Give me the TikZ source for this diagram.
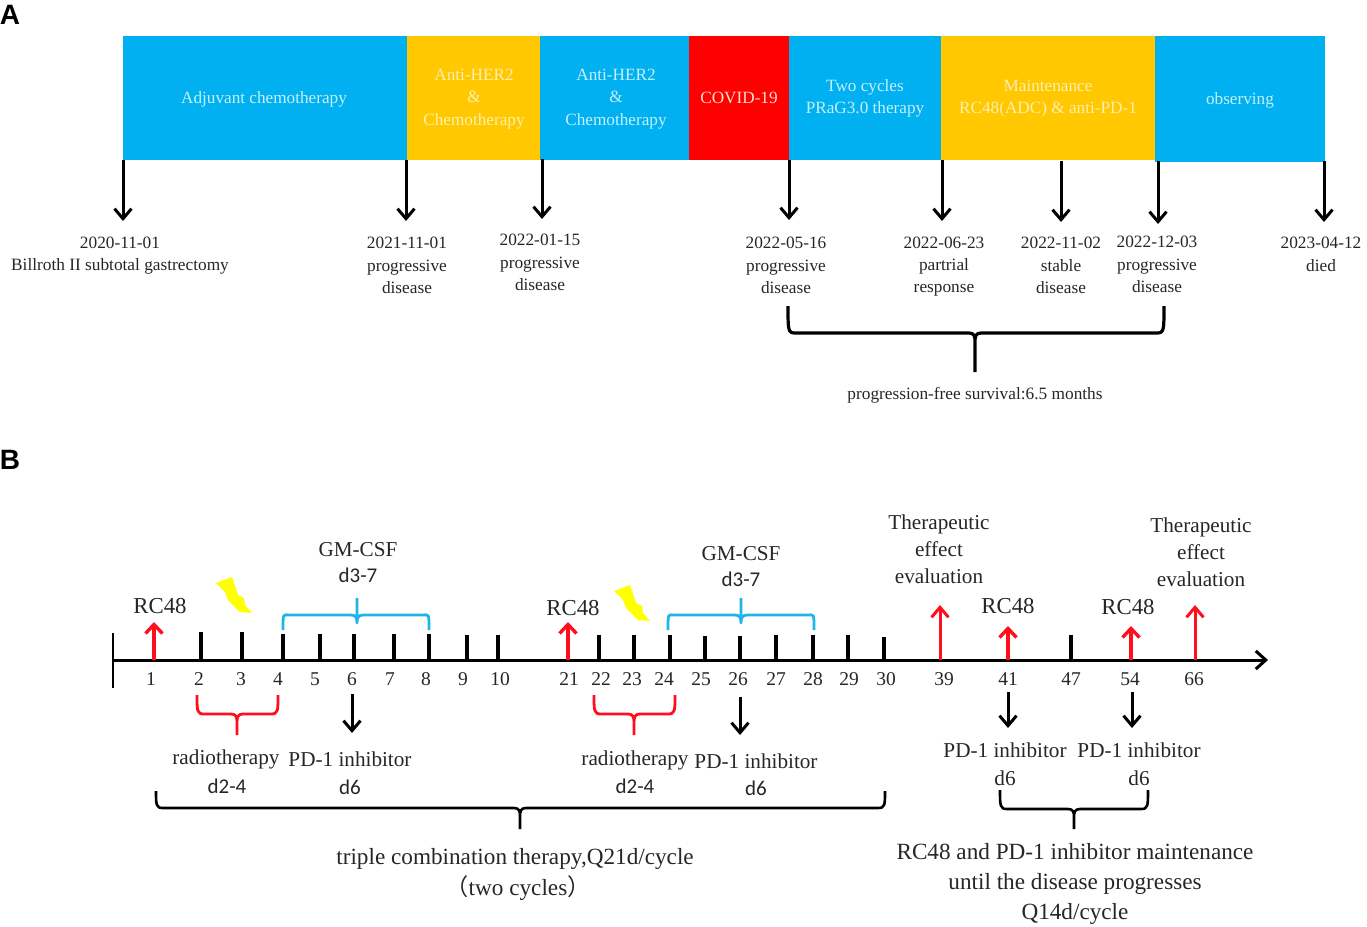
\documentclass[tikz,border=0pt]{standalone}
\usepackage{fontspec}
\setmainfont{Liberation Serif}
\newfontfamily\panelfont{Liberation Sans}
\newfontfamily\calfont{Carlito}
\newfontfamily\cjkfont{Noto Sans CJK SC}
\usetikzlibrary{arrows.meta}
\definecolor{barblue}{HTML}{00B0F0}
\definecolor{baryellow}{HTML}{FFC800}
\definecolor{barred}{HTML}{FF0000}
\definecolor{ltblue}{HTML}{C4F0FA}
\definecolor{ltyellow}{HTML}{FFEFB0}
\definecolor{ltred}{HTML}{FFE0D0}
\definecolor{txt}{HTML}{262626}
\definecolor{bracecyan}{HTML}{1DB5EA}
\definecolor{boltyellow}{HTML}{FFFF00}
\definecolor{arrred}{HTML}{FF0F1E}
\tikzset{
  x=1pt,y=-1pt,
  bar/.style={rectangle,inner sep=0pt,minimum height=124pt},
  bartext/.style={inner sep=0pt,align=center,font=\fontsize{17.2}{22.5}\selectfont},
  labA/.style={inner sep=0pt,align=center,text=txt,font=\fontsize{17.3}{22.4}\selectfont},
  labB/.style={inner sep=0pt,align=center,text=txt,font=\fontsize{21.2}{27}\selectfont},
  labC/.style={inner sep=0pt,align=center,text=txt,font=\fontsize{23.2}{30}\selectfont},
  num/.style={inner sep=0pt,text=txt,font=\fontsize{19.5}{22}\selectfont},
  rcl/.style={inner sep=0pt,text=txt,font=\fontsize{22.8}{26}\selectfont},
  calib/.style={inner sep=0pt,text=txt,font=\calfont\fontsize{21}{24}\selectfont},
  panel/.style={inner sep=0pt,text=black,font=\panelfont\bfseries\fontsize{28}{30}\selectfont},
  darrA/.style={draw=black,line width=3pt,-{Straight Barb[length=10pt,width=17pt,line width=3pt]}},
  darrB/.style={draw=black,line width=3pt,-{Straight Barb[length=10pt,width=17pt,line width=3pt]}},
  redthick/.style={draw=arrred,line width=3.8pt,-{Straight Barb[length=9pt,width=17pt,line width=3.4pt]}},
  redthin/.style={draw=arrred,line width=3pt,-{Straight Barb[length=10pt,width=17pt,line width=3pt]}},
  tick/.style={draw=black,line width=4.2pt},
  axis/.style={draw=black,line width=3pt,-{Straight Barb[length=10pt,width=18pt,line width=3pt]}},
  bracek/.style={draw=black,line width=2.6pt,line join=round},
  bracebig/.style={draw=black,line width=3.2pt,line join=round},
  bracer/.style={draw=arrred,line width=2.8pt,line join=round},
  braceb/.style={draw=bracecyan,line width=2.8pt,line join=round},
  bolt/.style={fill=boltyellow,draw=none},
}
% style; left x; right x; top y; bar y; tip x; tip y
\newcommand{\mybrace}[7]{%
  \draw[#1] (#2,#4) .. controls (#2,#5-3) and (#2,#5) .. (#2+7,#5)
    -- (#6-6,#5) .. controls (#6-1,#5) and (#6,#5+3) .. (#6,#5+8) -- (#6,#7)
    (#6,#5+8) .. controls (#6,#5+3) and (#6+1,#5) .. (#6+6,#5)
    -- (#3-7,#5) .. controls (#3,#5) and (#3,#5-3) .. (#3,#4);}
\newcommand{\mybolt}[2]{%
  \path[bolt] (#1+0,#2+6) -- (#1+16,#2+0) -- (#1+22,#2+18) -- (#1+28,#2+21) -- (#1+29,#2+28)
    -- (#1+36,#2+36) -- (#1+24,#2+35) -- (#1+12,#2+23) -- (#1+9,#2+15) -- cycle;}
\begin{document}
\begin{tikzpicture}
\useasboundingbox (0,0) rectangle (1367,926);
\node[panel] (pA) at (10,15) {A};
\node[panel] (pB) at (10,460) {B};
% --- panel A bars
\node[bar,fill=barblue,minimum width=284.5pt] (b1) at (264.75,98) {};
\node[bar,fill=baryellow,minimum width=133pt] (b2) at (473.5,98) {};
\node[bar,fill=barblue,minimum width=149pt] (b3) at (614.5,98) {};
\node[bar,fill=barred,minimum width=100pt] (b4) at (739,98) {};
\node[bar,fill=barblue,minimum width=152pt] (b5) at (865,98) {};
\node[bar,fill=baryellow,minimum width=214pt] (b6) at (1048,98) {};
\node[bar,fill=barblue,minimum width=170pt,minimum height=126pt] (b7) at (1240,99) {};
\node[bartext,text=ltblue] (bt1) at (264,99) {Adjuvant chemotherapy};
\node[bartext,text=ltyellow] (bt2) at (474,99) {Anti-HER2\\\&\\Chemotherapy};
\node[bartext,text=ltblue] (bt3) at (616,99) {Anti-HER2\\\&\\Chemotherapy};
\node[bartext,text=ltred] (bt4) at (739,97.5) {COVID-19};
\node[bartext,text=ltblue] (bt5) at (865,98.5) {Two cycles\\PRaG3.0 therapy};
\node[bartext,text=ltyellow] (bt6) at (1048,98.5) {Maintenance\\RC48(ADC) \& anti-PD-1};
\node[bartext,text=ltblue] (bt7) at (1240,100) {observing};
% --- panel A labels
\node[labA] (l1) at (120,255.5) {2020-11-01\\Billroth II subtotal gastrectomy};
\node[labA] (l2) at (407,265.5) {2021-11-01\\progressive\\disease};
\node[labA] (l3) at (540,262.5) {2022-01-15\\progressive\\disease};
\node[labA] (l4) at (786,265.5) {2022-05-16\\progressive\\disease};
\node[labA] (l5) at (944,266.5) {2022-06-23\\partrial\\response};
\node[labA] (l6) at (1061,265.5) {2022-11-02\\stable\\disease};
\node[labA] (l7) at (1157,264.5) {2022-12-03\\progressive\\disease};
\node[labA] (l8) at (1321,254.5) {2023-04-12\\died};
\node[labA] (l9) at (975,395) {progression-free survival:6.5 months};
% --- panel A arrows
\foreach \n/\x/\a/\b in {1/123/160/221,2/406/160/221,3/542/159/219,4/789/160/220,5/942/160/221,6/1061/161/222,7/1158/161/224,8/1324/161/222}{
  \coordinate (as\n) at (\x,\a);
  \coordinate (ae\n) at (\x,\b);
  \draw[darrA] (as\n) -- (ae\n);
}
\mybrace{bracebig}{788}{1164}{306}{333}{975}{372}
% --- panel B axis
\coordinate (axs) at (113,660);
\coordinate (axe) at (1268,660);
\draw[axis] (axs) -- (axe);
\coordinate (st) at (113,633);
\coordinate (sb) at (113,688);
\draw[draw=black,line width=2.4pt] (st) -- (sb);
\foreach \x/\t in {201/632,242/632,283/634,320/634,354/634,394/634,429/634,467/635,498/635,
  599/635,634/635,670/635,705/636,740/636,776/635,813/635,848/635,884/637,1071/635}{
  \draw[tick] (\x,\t) -- (\x,660);
}
% numbers
\foreach \x/\t in {151/1,199/2,241/3,278/4,315/5,352/6,390/7,426/8,463/9,500/10,
  569/21,601/22,632/23,664/24,701/25,738/26,776/27,813/28,849/29,886/30,
  944/39,1008/41,1071/47,1130/54,1194/66}{
  \node[num] (n\t) at (\x,679.5) {\t};
}
% red arrows
\foreach \n/\x/\y in {1/154/622,2/568/622,3/1008/626,4/1131/626}{
  \coordinate (ru\n) at (\x,\y);
  \coordinate (rb\n) at (\x,660);
  \draw[redthick] (rb\n) -- (ru\n);
}
\foreach \n/\x in {1/940,2/1195}{
  \coordinate (su\n) at (\x,605);
  \coordinate (sb\n) at (\x,660);
  \draw[redthin] (sb\n) -- (su\n);
}
\node[rcl] (r1) at (160,606) {RC48};
\node[rcl] (r2) at (573,608) {RC48};
\node[rcl] (r3) at (1008,606) {RC48};
\node[rcl] (r4) at (1128,607) {RC48};
% bolts
\mybolt{216}{577}
\mybolt{614}{585}
% braces
\mybrace{braceb}{283}{429}{630}{615}{357}{598}
\mybrace{braceb}{668}{814}{630}{615}{741}{598}
\mybrace{bracer}{197}{278}{695}{714}{237}{735}
\mybrace{bracer}{594}{675}{695}{714}{634}{735}
\mybrace{bracek}{156}{885}{791}{808}{520}{829}
\mybrace{bracek}{1000}{1148}{790}{809}{1074}{829}
% down arrows
\foreach \n/\x/\a/\b in {1/352/694/733,2/740/697/735,3/1008/692/728,4/1132/692/728}{
  \coordinate (ds\n) at (\x,\a);
  \coordinate (de\n) at (\x,\b);
  \draw[darrB] (ds\n) -- (de\n);
}
% texts
\node[labB] (g1) at (358,550) {GM-CSF};
\node[calib] (g1d) at (358,575) {d3-7};
\node[labB] (g2) at (741,554) {GM-CSF};
\node[calib] (g2d) at (741,579) {d3-7};
\node[labB] (t1) at (939,549.5) {Therapeutic\\effect\\evaluation};
\node[labB] (t2) at (1201,552.5) {Therapeutic\\effect\\evaluation};
\node[labB] (ra1) at (226,759) {radiotherapy};
\node[calib] (ra1d) at (227,786) {d2-4};
\node[labB] (pd1) at (350,759) {PD-1 inhibitor};
\node[calib] (pd1d) at (350,787) {d6};
\node[labB] (ra2) at (635,760) {radiotherapy};
\node[calib] (ra2d) at (635,786) {d2-4};
\node[labB] (pd2) at (756,761) {PD-1 inhibitor};
\node[calib] (pd2d) at (756,788) {d6};
\node[labB] (pd3) at (1005,750) {PD-1 inhibitor};
\node[labB] (pd3d) at (1005,778) {d6};
\node[labB] (pd4) at (1139,750) {PD-1 inhibitor};
\node[labB] (pd4d) at (1139,778) {d6};
\node[labC] (tc) at (515,859) {triple combination therapy,Q21d/cycle};
\node[labC] (tc2) at (518,888) {{\cjkfont （}two cycles{\cjkfont ）}};
\node[labC] (mt) at (1075,883.5) {RC48 and PD-1 inhibitor maintenance\\until the disease progresses\\Q14d/cycle};
\end{tikzpicture}
\end{document}
